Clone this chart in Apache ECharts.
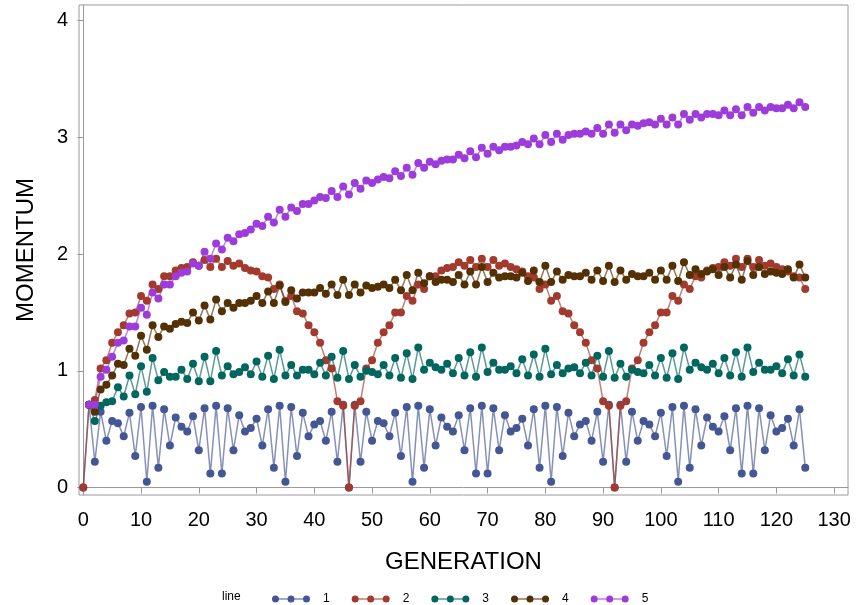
<!DOCTYPE html>
<html>
<head>
<meta charset="utf-8">
<script src="https://cdn.jsdelivr.net/npm/echarts@6/dist/echarts.min.js"></script>
<style>
html,body{margin:0;padding:0;background:#fff;}
#chart{width:856px;height:605px;}
</style>
</head>
<body>
<div id="chart"></div>
<script>
// x positions (generation)
const generation = [
  0,1,2,3,4,5,6,7,8,9,
  10,11,12,13,14,15,16,17,18,19,
  20,21,22,23,24,25,26,27,28,29,
  30,31,32,33,34,35,36,37,38,39,
  40,41,42,43,44,45,46,47,48,49,
  50,51,52,53,54,55,56,57,58,59,
  60,61,62,63,64,65,66,67,68,69,
  70,71,72,73,74,75,76,77,78,79,
  80,81,82,83,84,85,86,87,88,89,
  90,91,92,93,94,95,96,97,98,99,
  100,101,102,103,104,105,106,107,108,109,
  110,111,112,113,114,115,116,117,118,119,
  120,121,122,123,124,125
];
const line1 = [
  0,0.71,0.22,0.65,0.40,0.57,0.55,0.44,0.64,0.27,
  0.69,0.05,0.70,0.17,0.67,0.36,0.60,0.52,0.48,0.61,
  0.32,0.68,0.12,0.70,0.12,0.68,0.32,0.62,0.48,0.51,
  0.59,0.36,0.67,0.17,0.70,0.05,0.69,0.27,0.64,0.44,
  0.54,0.57,0.40,0.65,0.22,0.71,0,0.71,0.22,0.65,
  0.40,0.57,0.55,0.44,0.64,0.27,0.69,0.05,0.70,0.17,
  0.67,0.36,0.60,0.52,0.48,0.62,0.32,0.68,0.12,0.70,
  0.12,0.68,0.32,0.62,0.48,0.51,0.59,0.36,0.67,0.17,
  0.70,0.05,0.69,0.27,0.64,0.44,0.54,0.57,0.40,0.65,
  0.22,0.71,0,0.71,0.22,0.65,0.40,0.57,0.54,0.44,
  0.64,0.27,0.69,0.05,0.70,0.17,0.67,0.36,0.60,0.52,
  0.48,0.61,0.32,0.68,0.12,0.70,0.12,0.68,0.32,0.62,
  0.48,0.51,0.59,0.36,0.67,0.17
];
const line2 = [
  0,0.71,0.75,1.02,1.09,1.24,1.33,1.39,1.49,1.50,
  1.64,1.60,1.74,1.70,1.81,1.81,1.86,1.88,1.89,1.93,
  1.90,1.95,1.89,1.96,1.89,1.94,1.90,1.92,1.88,1.86,
  1.85,1.81,1.80,1.70,1.74,1.60,1.64,1.51,1.49,1.39,
  1.33,1.24,1.09,1.02,0.74,0.70,0,0.70,0.74,1.02,
  1.09,1.24,1.33,1.39,1.50,1.50,1.64,1.60,1.74,1.70,
  1.81,1.81,1.86,1.88,1.89,1.93,1.90,1.95,1.89,1.96,
  1.89,1.95,1.90,1.92,1.89,1.87,1.85,1.81,1.80,1.70,
  1.74,1.60,1.64,1.51,1.49,1.39,1.33,1.24,1.09,1.02,
  0.74,0.70,0,0.70,0.74,1.02,1.09,1.24,1.33,1.39,
  1.50,1.50,1.64,1.60,1.74,1.70,1.81,1.80,1.86,1.88,
  1.89,1.93,1.90,1.96,1.89,1.96,1.89,1.95,1.90,1.92,
  1.89,1.87,1.85,1.81,1.80,1.70
];
const line3 = [
  null,0.71,0.57,0.70,0.73,0.74,0.86,0.78,0.96,0.80,
  1.04,0.82,1.11,0.92,0.99,0.95,0.95,1.01,0.93,1.06,
  0.91,1.12,0.91,1.17,0.96,1.04,0.97,0.99,1.03,0.97,
  1.08,0.95,1.13,0.93,1.18,0.96,1.05,0.96,1.01,1.01,
  0.97,1.07,0.96,1.12,0.94,1.17,0.93,1.05,0.95,1.00,
  0.99,0.97,1.05,0.96,1.11,0.94,1.15,0.93,1.20,1.01,
  1.07,1.03,1.01,1.06,0.98,1.11,0.96,1.16,0.95,1.20,
  0.99,1.07,1.01,1.01,1.04,0.98,1.10,0.96,1.14,0.95,
  1.19,0.97,1.05,0.98,1.02,1.03,0.98,1.07,0.96,1.13,
  0.95,1.17,0.94,1.06,0.95,1.01,0.99,0.98,1.05,0.96,
  1.11,0.94,1.15,0.93,1.20,1.01,1.07,1.03,1.01,1.06,
  0.98,1.11,0.96,1.16,0.95,1.20,0.99,1.07,1.01,1.01,
  1.04,0.98,1.10,0.96,1.14,0.95
];
const line4 = [
  null,0.71,0.65,0.84,0.88,0.96,1.06,1.05,1.19,1.13,
  1.30,1.18,1.39,1.29,1.38,1.36,1.40,1.42,1.41,1.50,
  1.43,1.56,1.44,1.61,1.51,1.58,1.54,1.58,1.58,1.60,
  1.64,1.58,1.68,1.58,1.73,1.59,1.69,1.62,1.67,1.67,
  1.67,1.71,1.66,1.74,1.65,1.78,1.65,1.74,1.67,1.73,
  1.71,1.72,1.74,1.71,1.78,1.69,1.82,1.69,1.84,1.75,
  1.81,1.76,1.78,1.78,1.76,1.82,1.74,1.85,1.74,1.89,
  1.76,1.84,1.80,1.81,1.81,1.80,1.84,1.77,1.86,1.76,
  1.90,1.76,1.85,1.78,1.82,1.81,1.81,1.84,1.78,1.86,
  1.77,1.90,1.76,1.86,1.78,1.83,1.81,1.81,1.84,1.78,
  1.86,1.78,1.90,1.77,1.93,1.82,1.87,1.83,1.85,1.87,
  1.82,1.89,1.80,1.91,1.78,1.94,1.82,1.89,1.83,1.85,
  1.84,1.83,1.87,1.80,1.91,1.80
];
const line5 = [
  null,0.71,0.71,0.95,1.01,1.12,1.24,1.26,1.38,1.38,
  1.54,1.48,1.67,1.62,1.74,1.74,1.81,1.84,1.85,1.92,
  1.90,2.02,1.96,2.09,2.04,2.14,2.11,2.17,2.18,2.21,
  2.26,2.24,2.32,2.27,2.38,2.32,2.40,2.37,2.43,2.43,
  2.46,2.49,2.48,2.54,2.49,2.58,2.51,2.61,2.56,2.63,
  2.61,2.64,2.66,2.65,2.71,2.67,2.74,2.68,2.78,2.74,
  2.79,2.77,2.80,2.81,2.81,2.85,2.82,2.88,2.83,2.91,
  2.86,2.92,2.89,2.92,2.92,2.93,2.96,2.94,2.99,2.94,
  3.02,2.96,3.03,2.98,3.02,3.03,3.03,3.05,3.03,3.08,
  3.03,3.11,3.04,3.11,3.06,3.11,3.10,3.12,3.13,3.11,
  3.16,3.11,3.17,3.11,3.20,3.15,3.20,3.17,3.20,3.20,
  3.19,3.23,3.19,3.24,3.19,3.26,3.21,3.26,3.23,3.26,
  3.25,3.25,3.28,3.25,3.30,3.26
];
const seriesNames = ['1','2','3','4','5'];
const seriesValues = [line1, line2, line3, line4, line5];
const colors = ['#445694','#A23A2E','#01665E','#543005','#9D3CDB'];
const xTicks = [0,10,20,30,40,50,60,70,80,90,100,110,120,130];
const yTicks = [0,1,2,3,4];

const FONT = '"Liberation Sans", Arial, "DejaVu Sans", sans-serif';
const legendIcon = 'path://M0,3.4L38,3.4L38,4.6L0,4.6Z' +
  'M0,4A3.5,3.5 0 1,1 7,4A3.5,3.5 0 1,1 0,4Z' +
  'M15.5,4A3.5,3.5 0 1,1 22.5,4A3.5,3.5 0 1,1 15.5,4Z' +
  'M31,4A3.5,3.5 0 1,1 38,4A3.5,3.5 0 1,1 31,4Z';

const series = seriesValues.map((vals, k) => {
  const data = [];
  vals.forEach((v, i) => { if (v !== null) data.push([generation[i], v]); });
  return {
    name: seriesNames[k],
    type: 'line',
    data: data,
    symbol: 'circle',
    symbolSize: 8,
    showAllSymbol: true,
    color: colors[k],
    itemStyle: { color: colors[k] },
    lineStyle: { color: colors[k], width: 1.5, opacity: 0.65 },
    emphasis: { disabled: true }
  };
});

const chart = echarts.init(document.getElementById('chart'), null, { renderer: 'canvas' });
chart.setOption({
  animation: false,
  backgroundColor: '#fff',
  grid: { left: 79, top: 5, width: 769, height: 490, show: true, borderColor: '#9a9a9a', borderWidth: 1, containLabel: false },
  xAxis: {
    type: 'value', min: -0.74, max: 132.4,
    name: 'GENERATION', nameLocation: 'middle', nameGap: 55,
    nameTextStyle: { fontSize: 24, fontFamily: FONT, color: '#000' },
    axisLine: { show: true, lineStyle: { color: '#9a9a9a' } },
    axisTick: { show: true, length: 6, customValues: xTicks, lineStyle: { color: '#9a9a9a' } },
    axisLabel: { customValues: xTicks, fontSize: 20, fontFamily: FONT, color: '#000', margin: 15 },
    splitLine: { show: false }
  },
  yAxis: {
    type: 'value', min: -0.064, max: 4.134,
    name: 'MOMENTUM', nameLocation: 'middle', nameGap: 41, nameRotate: 90,
    nameTextStyle: { fontSize: 24, fontFamily: FONT, color: '#000' },
    axisLine: { show: true, lineStyle: { color: '#9a9a9a' } },
    axisTick: { show: true, length: 6, customValues: yTicks, lineStyle: { color: '#9a9a9a' } },
    axisLabel: { customValues: yTicks, fontSize: 20, fontFamily: FONT, color: '#000', margin: 11 },
    splitLine: { show: false }
  },
  legend: {
    left: 267, top: 588,
    icon: legendIcon, itemWidth: 38, itemHeight: 8, itemGap: 22,
    textStyle: { fontSize: 12, fontFamily: FONT, color: '#000', padding: [0, 0, 0, 8] },
    data: seriesNames
  },
  graphic: [{
    type: 'text', left: 222, top: 591,
    style: { text: 'line', fontSize: 12, fontFamily: FONT, fill: '#000' }
  }],
  series: series
});
</script>
</body>
</html>
